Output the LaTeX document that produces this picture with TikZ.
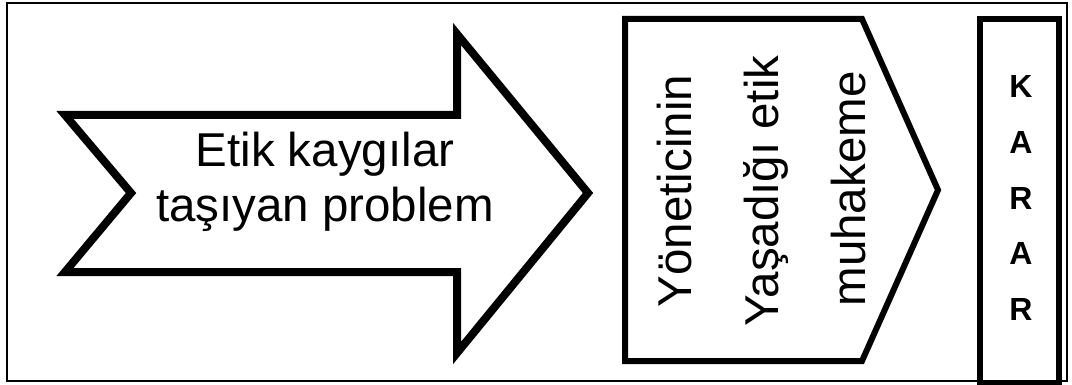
\documentclass[tikz,border=0pt]{standalone}
\usepackage{fontspec}
\setmainfont{Liberation Sans}
\begin{document}
\begin{tikzpicture}[x=1pt,y=-1pt,line join=miter,
  frame/.style={draw=black,line width=2pt},
  shapeline/.style={draw=black,line width=6pt,fill=white},
  bigtxt/.style={font=\fontsize{47.5}{55}\selectfont,anchor=base,inner sep=0pt},
  rottxt/.style={font=\fontsize{47.5}{55}\selectfont,anchor=base,inner sep=0pt,rotate=90},
  lettertxt/.style={font=\fontsize{32}{36}\selectfont\bfseries,anchor=base,inner sep=0pt}]
\useasboundingbox (0,0) rectangle (1072,385);
\fill[white] (0,0) rectangle (1072,385);
% outer frame
\draw[frame] (7,3) rectangle (1067,381);
% left arrow
\draw[shapeline,line width=8pt] (65,115) -- (457,115) -- (457,34) -- (588,193) -- (457,353) -- (457,272) -- (65,272) -- (131,193) -- cycle;
\node[bigtxt] (l1) at (325,167) {Etik kaygılar};
\node[bigtxt] (l2) at (325,222) {taşıyan problem};
% pentagon
\draw[shapeline] (625,19) -- (862,19) -- (938,190) -- (862,361) -- (625,361) -- cycle;
\node[rottxt] (r1) at (691,191) {Yöneticinin};
\node[rottxt] (r2) at (778,191) {Yaşadığı etik};
\node[rottxt] (r3) at (865,189) {muhakeme};
% KARAR box
\draw[shapeline] (980,19) rectangle (1059,383);
\node[lettertxt] (k1) at (1021,98) {K};
\node[lettertxt] (k2) at (1021,154) {A};
\node[lettertxt] (k3) at (1021,210) {R};
\node[lettertxt] (k4) at (1021,265) {A};
\node[lettertxt] (k5) at (1021,320) {R};
\end{tikzpicture}
\end{document}
